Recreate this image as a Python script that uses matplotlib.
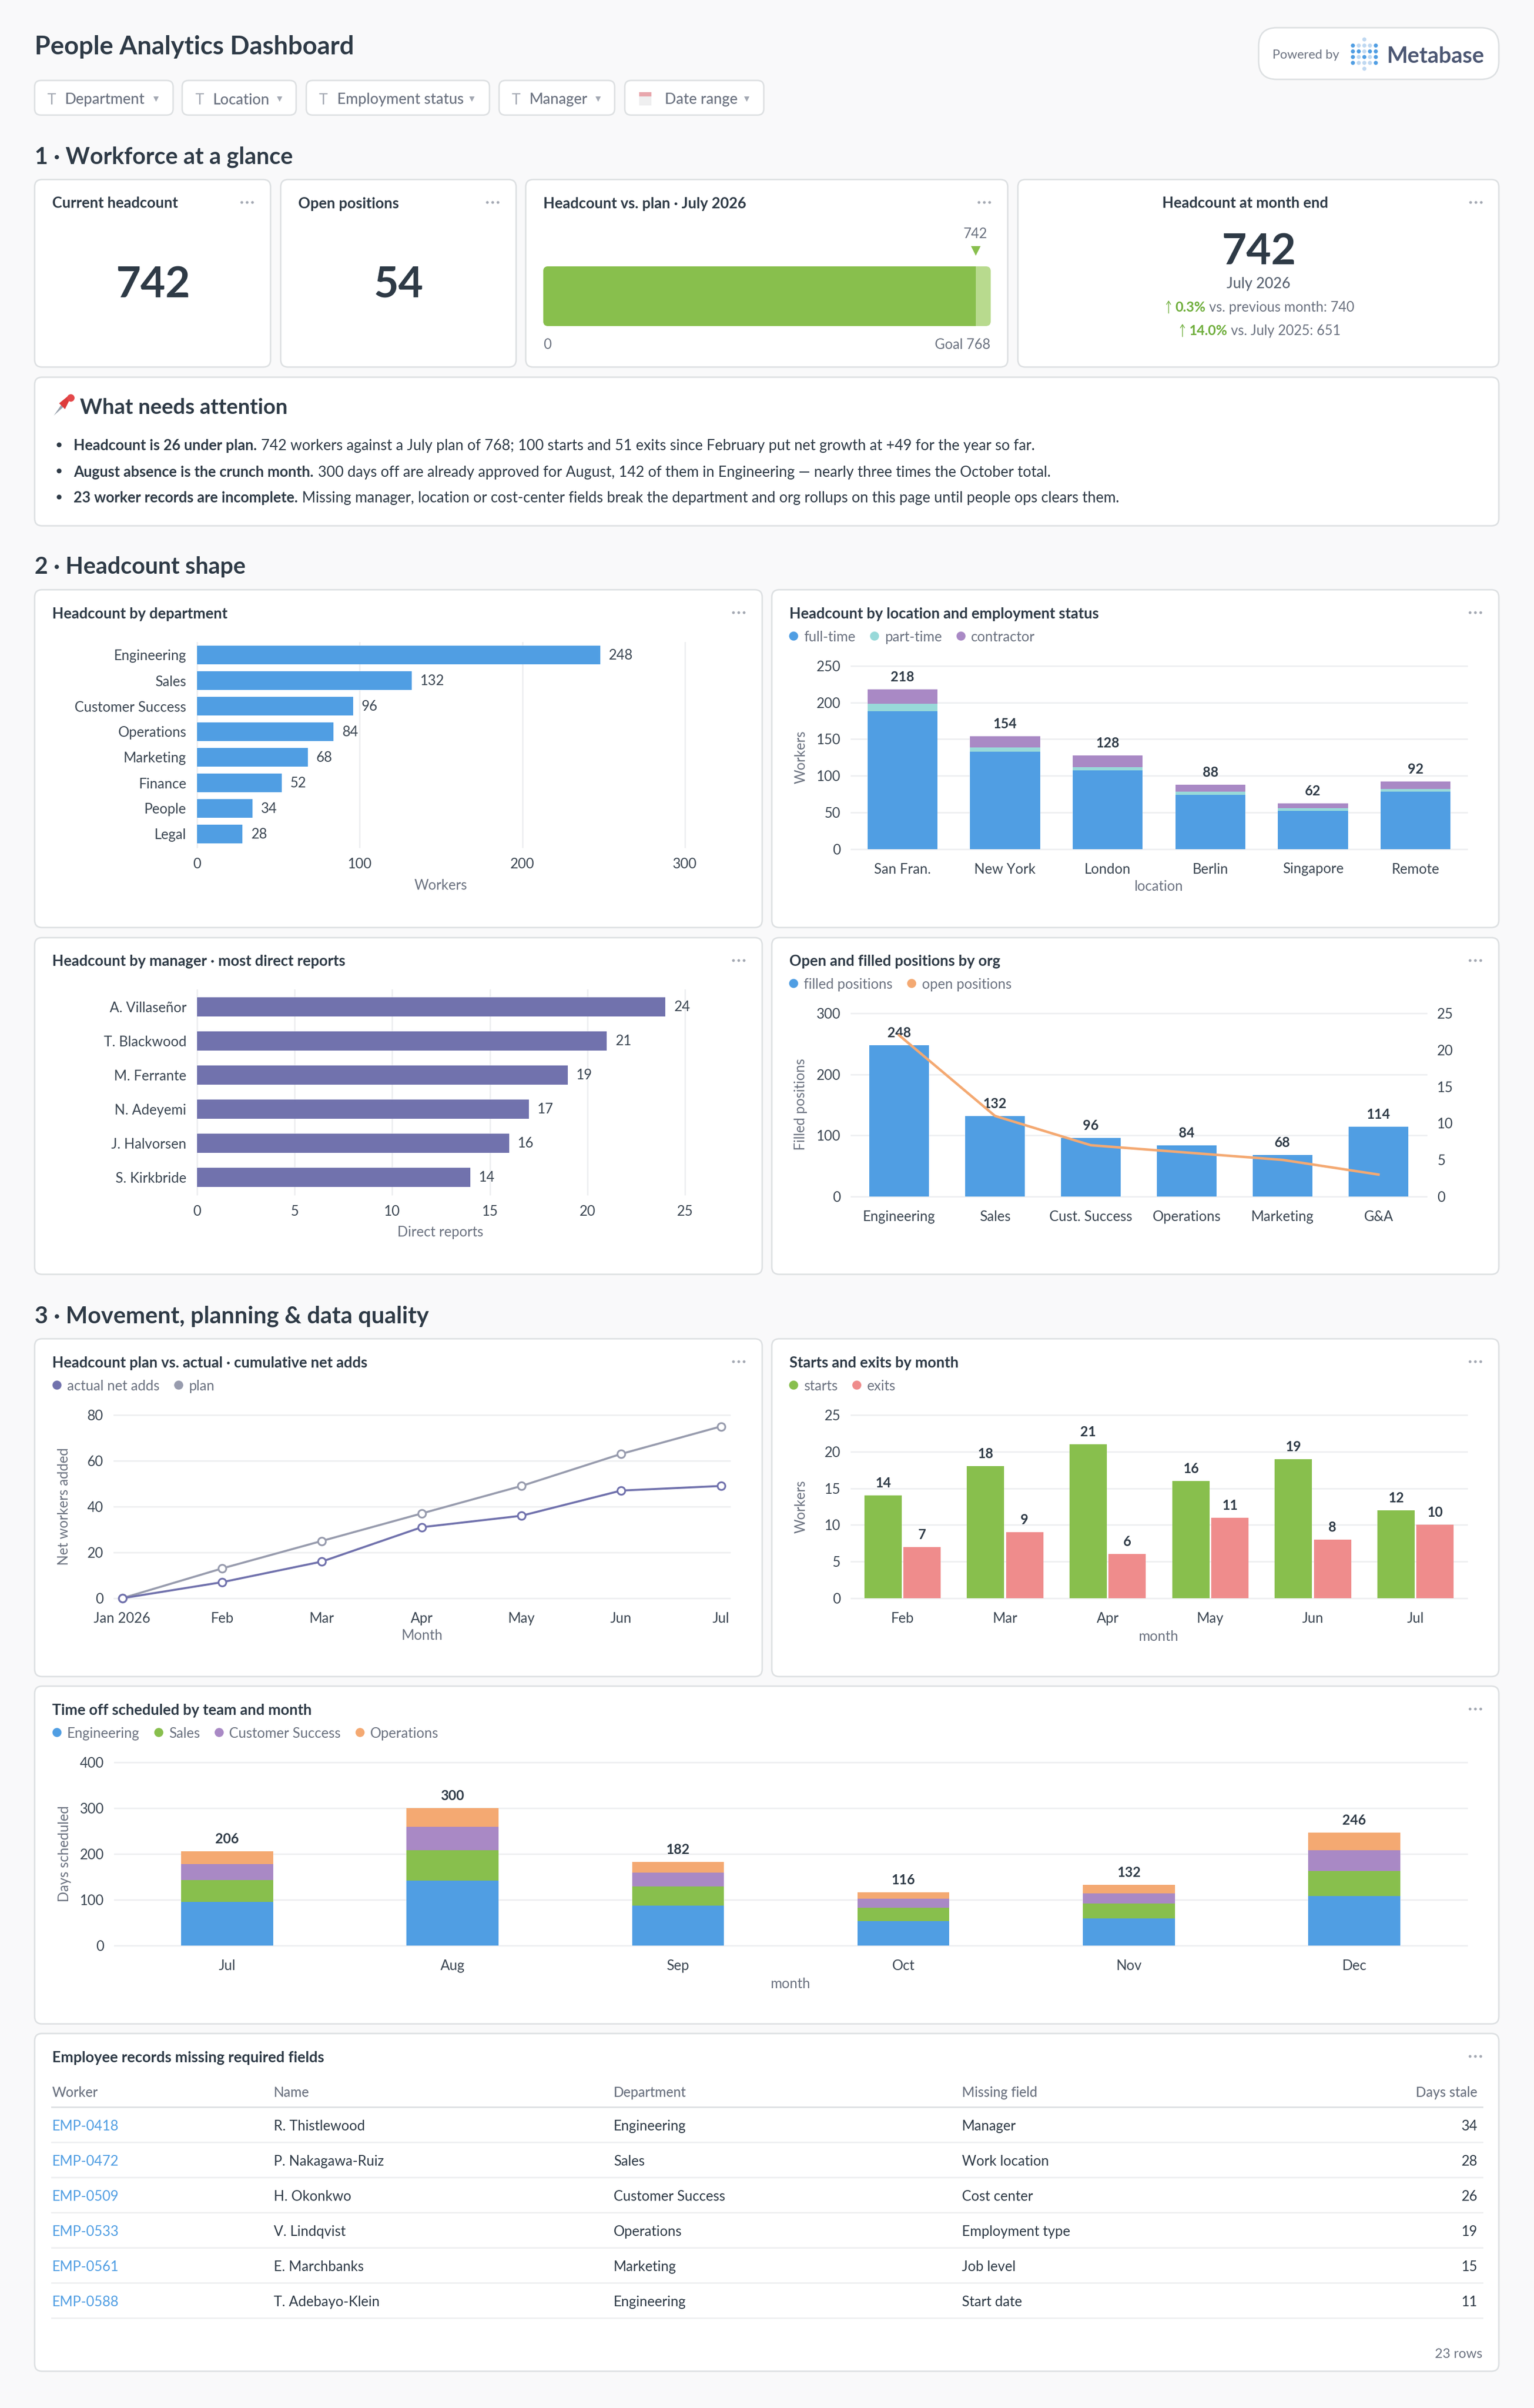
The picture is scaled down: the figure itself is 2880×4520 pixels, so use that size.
"""People analytics dashboard, drawn on a pixel grid matching the screenshot."""
import matplotlib

matplotlib.use("Agg")
import matplotlib.pyplot as plt
import numpy as np
from matplotlib.patches import Circle, FancyBboxPatch, Polygon, Rectangle
from matplotlib.transforms import ScaledTranslation

plt.rcParams["font.family"] = ["Lato", "DejaVu Sans"]

W, H = 2880, 4520
DPI = 200
PT = 72 / DPI  # one screenshot pixel in points

BG = "#F9F9FA"
BORDER = "#DDE0E2"
GRID = "#EEEFF1"
INK = "#2E3A46"
TICK = "#3B4652"
MUTED = "#6B7280"
FAINT = "#A3A8B2"
BLUE = "#509EE3"
TEAL = "#98D9D9"
LAVENDER = "#A989C5"
ORANGE = "#F4A972"
GREEN = "#88BF4D"
LIGHT_GREEN = "#B8DA8E"
SALMON = "#EF8C8C"
INDIGO = "#7172AD"
PLAN_GREY = "#989CAE"
DELTA_GREEN = "#6FAE3C"
LOGO_LIGHT = "#BFD8F1"

# filter bar
filter_labels = ["Department", "Location", "Employment status", "Manager", "Date range"]

# headcount vs plan
headcount = 742
open_positions = 54
headcount_goal = 768

# attention notes: bold lead, then plain text
attention_leads = [
    "Headcount is 26 under plan.",
    "August absence is the crunch month.",
    "23 worker records are incomplete.",
]
attention_bodies = [
    "742 workers against a July plan of 768; 100 starts and 51 exits since February put net growth at +49 for the year so far.",
    "300 days off are already approved for August, 142 of them in Engineering \u2014 nearly three times the October total.",
    "Missing manager, location or cost-center fields break the department and org rollups on this page until people ops clears them.",
]

departments = ["Engineering", "Sales", "Customer Success", "Operations", "Marketing", "Finance", "People", "Legal"]
department_workers = [248, 132, 96, 84, 68, 52, 34, 28]

locations = ["San Fran.", "New York", "London", "Berlin", "Singapore", "Remote"]
full_time = [188, 133, 107, 74, 52, 78]
part_time = [10, 6, 5, 4, 4, 4]
contractor = [20, 15, 16, 10, 6, 10]

managers = ["A. Villase\u00f1or", "T. Blackwood", "M. Ferrante", "N. Adeyemi", "J. Halvorsen", "S. Kirkbride"]
direct_reports = [24, 21, 19, 17, 16, 14]

orgs = ["Engineering", "Sales", "Cust. Success", "Operations", "Marketing", "G&A"]
filled_positions = [248, 132, 96, 84, 68, 114]
open_by_org = [22, 11, 7, 6, 5, 3]

plan_months = ["Jan 2026", "Feb", "Mar", "Apr", "May", "Jun", "Jul"]
actual_adds = [0, 7, 16, 31, 36, 47, 49]
plan_adds = [0, 13, 25, 37, 49, 63, 75]

flow_months = ["Feb", "Mar", "Apr", "May", "Jun", "Jul"]
starts = [14, 18, 21, 16, 19, 12]
exits = [7, 9, 6, 11, 8, 10]

off_months = ["Jul", "Aug", "Sep", "Oct", "Nov", "Dec"]
off_engineering = [95, 142, 87, 54, 59, 108]
off_sales = [48, 66, 42, 28, 33, 55]
off_customer_success = [35, 51, 30, 20, 22, 45]
off_operations = [28, 41, 23, 14, 18, 38]

table_headers = ["Worker", "Name", "Department", "Missing field", "Days stale"]
worker_ids = ["EMP-0418", "EMP-0472", "EMP-0509", "EMP-0533", "EMP-0561", "EMP-0588"]
worker_names = ["R. Thistlewood", "P. Nakagawa-Ruiz", "H. Okonkwo", "V. Lindqvist", "E. Marchbanks", "T. Adebayo-Klein"]
worker_departments = ["Engineering", "Sales", "Customer Success", "Operations", "Marketing", "Engineering"]
missing_fields = ["Manager", "Work location", "Cost center", "Employment type", "Job level", "Start date"]
days_stale = [34, 28, 26, 19, 15, 11]

fig = plt.figure(figsize=(W / DPI, H / DPI), dpi=DPI, facecolor=BG)
page = fig.add_axes([0, 0, 1, 1])
page.set_xlim(0, W)
page.set_ylim(H, 0)
page.axis("off")


def put(x, y, s, size=9.4, color=INK, weight="normal", ha="left", **kwargs):
    return page.text(x, y, s, fontsize=size, color=color, fontweight=weight, ha=ha, va="center_baseline", **kwargs)


def run(x, y, parts, size, gap=8):
    # consecutive text pieces with different weights on one line
    renderer = fig.canvas.get_renderer()
    for s, weight, color in parts:
        t = put(x, y, s, size=size, color=color, weight=weight)
        x += t.get_window_extent(renderer).width + gap
    return x


def box(x0, y0, x1, y1, radius=14, face="white", edge=BORDER, lw=1.0):
    patch = FancyBboxPatch(
        (x0, y0), x1 - x0, y1 - y0,
        boxstyle=f"round,pad=0,rounding_size={radius}",
        facecolor=face, edgecolor=edge, linewidth=lw,
    )
    page.add_patch(patch)
    return patch


def card(x0, y0, x1, y1, title=None):
    box(x0, y0, x1, y1)
    if title:
        put(x0 + 33, y0 + 43, title, size=10.1, weight="bold")
    for dx in (-54, -44, -34):
        page.add_patch(Circle((x1 + dx, y0 + 43), 2.6, color=FAINT, linewidth=0))


def legend(x, y, items):
    renderer = fig.canvas.get_renderer()
    for name, color in items:
        page.add_patch(Circle((x, y), 8.5, color=color, linewidth=0))
        t = put(x + 19, y, name, size=9.4, color=MUTED)
        x += 19 + t.get_window_extent(renderer).width + 36


def chart(x0, y0, x1, y1, xpad=26):
    ax = fig.add_axes([x0 / W, 1 - y1 / H, (x1 - x0) / W, (y1 - y0) / H])
    ax.patch.set_visible(False)
    for spine in ax.spines.values():
        spine.set_visible(False)
    ax.tick_params(length=0, labelsize=9.4, labelcolor=TICK, pad=20 * PT)
    ax.tick_params(axis="x", pad=xpad * PT)
    ax.set_axisbelow(True)
    return ax


def grid_on(ax, axis):
    ax.grid(True, axis=axis, color=GRID, linewidth=1.0)
    lines = ax.get_xgridlines() if axis == "x" else ax.get_ygridlines()
    for line in lines:
        line.set_clip_on(False)


def axis_titles(ax, xlabel=None, xpos=None, ylabel=None, ypos=None):
    if xlabel:
        ax.set_xlabel(xlabel, fontsize=9.4, color=MUTED, va="center")
        ax.xaxis.set_label_coords(*xpos, transform=page.transData)
    if ylabel:
        ax.set_ylabel(ylabel, fontsize=9.4, color=MUTED, va="center", ha="center")
        ax.yaxis.set_label_coords(*ypos, transform=page.transData)


def value_labels(ax, xs, ys, texts, dy=25, size=9.2):
    for x, y, s in zip(xs, ys, texts):
        ax.annotate(
            str(s), (x, y), xytext=(0, dy * PT), textcoords="offset points",
            ha="center", va="center_baseline", fontsize=size, fontweight="bold",
            color=INK, annotation_clip=False,
        )


def hbar_panel(ax, names, values, color, xmax, ticks, thickness):
    pos = np.arange(len(names))
    ax.barh(pos, values, height=thickness, color=color)
    ax.set_xlim(0, xmax)
    ax.set_ylim(len(names) - 0.5, -0.5)
    ax.set_yticks(pos, names)
    ax.set_xticks(ticks)
    grid_on(ax, "x")
    for y, v in zip(pos, values):
        ax.annotate(
            str(v), (v, y), xytext=(16 * PT, 2 * PT), textcoords="offset points",
            ha="left", va="center_baseline", fontsize=9.4, color=TICK, annotation_clip=False,
        )


def stacked_panel(ax, names, layers, colors, ymax, ticks, width):
    pos = np.arange(len(names))
    bottom = np.zeros(len(names))
    for layer, color in zip(layers, colors):
        ax.bar(pos, layer, width=width, bottom=bottom, color=color)
        bottom = bottom + np.array(layer)
    ax.set_xlim(-0.5, len(names) - 0.5)
    ax.set_ylim(0, ymax)
    ax.set_yticks(ticks)
    ax.set_xticks(pos, names)
    grid_on(ax, "y")
    value_labels(ax, pos, bottom, [int(b) for b in bottom])


# ---- header ----
put(65, 84, "People Analytics Dashboard", size=17.3, weight="bold")

pills = [(65, 325), (342, 556), (575, 919), (937, 1154), (1173, 1434)]
glyph_x = [97, 375, 607, 969, 1211]
label_x = [122, 399, 633, 993, 1248]
caret_x = [293, 525, 886, 1123, 1402]
for i, name in enumerate(filter_labels):
    box(pills[i][0], 151, pills[i][1], 216, radius=12)
    if i < 4:
        put(glyph_x[i], 185, "T", size=10, color=FAINT, ha="center")
    else:
        page.add_patch(Rectangle((1200, 173), 23, 25, facecolor="#EFEFF0", linewidth=0))
        page.add_patch(Rectangle((1200, 173), 23, 8, facecolor="#E8A6AC", linewidth=0))
    put(label_x[i], 185, name, size=10.1, color=MUTED, weight="medium")
    page.plot([caret_x[i]], [186], marker="v", ms=3.6, color=FAINT, mew=0)

box(2363, 52, 2814, 149, radius=34)
put(2389, 102, "Powered by", size=8.6, color=MUTED)
put(2604, 102, "Metabase", size=15, color="#4C5773", weight="bold")
logo_dark = [(0, 0), (0, 4), (1, 0), (1, 1), (1, 3), (1, 4), (2, 0), (2, 2), (2, 4), (3, 0), (3, 4)]
for r, yy in enumerate([85.5, 96.5, 107, 118]):
    for c, xx in enumerate([2540, 2551, 2561.5, 2572, 2583]):
        page.add_patch(Circle((xx, yy), 3.8, color=BLUE if (r, c) in logo_dark else LOGO_LIGHT, linewidth=0))
for yy in (74, 129):
    page.add_patch(Circle((2561.5, yy), 3.8, color=LOGO_LIGHT, linewidth=0))

# ---- section 1 ----
put(65, 291, "1 \u00b7 Workforce at a glance", size=15.6, weight="bold")

card(65, 337, 508, 689, "Current headcount")
put(287, 528, str(headcount), size=29, weight="bold", ha="center")
card(527, 337, 969, 689, "Open positions")
put(748, 528, str(open_positions), size=29, weight="bold", ha="center")

card(987, 337, 1892, 689, "Headcount vs. plan \u00b7 July 2026")
gauge = chart(1020, 500, 1860, 612)
gauge.set_xlim(0, headcount_goal)
gauge.set_ylim(-0.5, 0.5)
gauge.set_xticks([])
gauge.set_yticks([])
gauge_shape = FancyBboxPatch(
    (1020, 500), 840, 112, boxstyle="round,pad=0,rounding_size=9", transform=page.transData
)
for value, color in ((headcount_goal, LIGHT_GREEN), (headcount, GREEN)):
    for bar in gauge.barh(0, value, height=1, color=color):
        bar.set_clip_path(gauge_shape)
gauge.plot([headcount], [1], marker="v", ms=18 * PT, color=GREEN, mew=0, clip_on=False,
           transform=gauge.get_xaxis_transform() + ScaledTranslation(0, 29 / DPI, fig.dpi_scale_trans))
put(1831, 437, str(headcount), size=9.3, color=MUTED, ha="center")
put(1020, 645, "0", size=9.3, color=MUTED)
put(1859, 645, f"Goal {headcount_goal}", size=9.3, color=MUTED, ha="right")

box(1911, 337, 2814, 689)
put(2338, 380, "Headcount at month end", size=10.1, weight="bold", ha="center")
for dx in (-53, -43, -33):
    page.add_patch(Circle((2814 + dx, 380), 2.6, color=FAINT, linewidth=0))
put(2363, 466, str(headcount), size=29, weight="bold", ha="center")
put(2363, 530, "July 2026", size=10, color="#5A6472", weight="medium", ha="center")
for ax_x, start_x, yy, pct, rest in (
    (2194, 2206, 575, "0.3%", "vs. previous month: 740"),
    (2220, 2232, 619, "14.0%", "vs. July 2025: 651"),
):
    page.annotate("", xy=(ax_x, yy - 11), xytext=(ax_x, yy + 13),
                  arrowprops=dict(arrowstyle="->,head_length=0.22,head_width=0.14", color=DELTA_GREEN, lw=0.5, shrinkA=0, shrinkB=0))
    run(start_x, yy, [(pct, "bold", DELTA_GREEN), (rest, "normal", MUTED)], size=9.25, gap=7)

# what needs attention
box(65, 708, 2814, 987)
page.add_patch(Polygon([(101, 780), (115, 760), (119, 764)], color="#9AA3AE", linewidth=0))
page.add_patch(Polygon([(111, 757), (127, 744), (133, 741), (130, 742), (129, 746), (137, 752), (134, 753), (130, 752), (122, 768)], color="#DD3B3B", linewidth=0))
page.add_patch(Circle((133, 747), 7, color="#E4484A", linewidth=0))
put(150, 762, "What needs attention", size=14.4, weight="bold")
for yy, lead, body in zip((835, 884, 933), attention_leads, attention_bodies):
    page.add_patch(Circle((111, yy), 4.5, color=INK, linewidth=0))
    run(138, yy, [(lead, "bold", INK), (body, "normal", INK)], size=9.96)

# ---- section 2 ----
put(65, 1061, "2 \u00b7 Headcount shape", size=15.6, weight="bold")

card(65, 1107, 1431, 1741, "Headcount by department")
ax = chart(370, 1205.5, 1286, 1589.5, xpad=20)
hbar_panel(ax, departments, department_workers, BLUE, 300, [0, 100, 200, 300], 0.72)
axis_titles(ax, xlabel="Workers", xpos=(827, 1663))

card(1449, 1107, 2814, 1741, "Headcount by location and employment status")
legend(1490, 1194, [("full-time", BLUE), ("part-time", TEAL), ("contractor", LAVENDER)])
ax = chart(1598, 1250, 2754, 1593.5)
stacked_panel(ax, locations, [full_time, part_time, contractor], [BLUE, TEAL, LAVENDER], 250, np.arange(0, 251, 50), 0.68)
axis_titles(ax, xlabel="location", xpos=(2175, 1665), ylabel="Workers", ypos=(1504, 1421))

card(65, 1760, 1431, 2392, "Headcount by manager \u00b7 most direct reports")
ax = chart(370, 1858, 1286, 2242, xpad=20)
hbar_panel(ax, managers, direct_reports, INDIGO, 25, np.arange(0, 26, 5), 0.5625)
axis_titles(ax, xlabel="Direct reports", xpos=(827, 2313))

card(1449, 1760, 2814, 2392, "Open and filled positions by org")
legend(1490, 1846, [("filled positions", BLUE), ("open positions", ORANGE)])
ax = chart(1598, 1902, 2678, 2246)
pos = np.arange(len(orgs))
ax.bar(pos, filled_positions, width=0.62, color=BLUE)
ax.set_xlim(-0.5, len(orgs) - 0.5)
ax.set_ylim(0, 300)
ax.set_yticks([0, 100, 200, 300])
ax.set_xticks(pos, orgs)
grid_on(ax, "y")
value_labels(ax, pos, filled_positions, filled_positions)
axis_titles(ax, ylabel="Filled positions", ypos=(1504, 2073))
ax2 = ax.twinx()
ax2.patch.set_visible(False)
for spine in ax2.spines.values():
    spine.set_visible(False)
ax2.plot(pos, open_by_org, color=ORANGE, linewidth=1.7)
ax2.set_ylim(0, 25)
ax2.set_yticks(np.arange(0, 26, 5))
ax2.tick_params(length=0, labelsize=9.4, labelcolor=TICK, pad=20 * PT)

# ---- section 3 ----
put(65, 2467, "3 \u00b7 Movement, planning & data quality", size=15.7, weight="bold")

card(65, 2513, 1431, 3147, "Headcount plan vs. actual \u00b7 cumulative net adds")
legend(107, 2600, [("actual net adds", INDIGO), ("plan", PLAN_GREY)])
ax = chart(214, 2656, 1370, 3000)
pos = np.arange(len(plan_months))
for series, color in ((plan_adds, PLAN_GREY), (actual_adds, INDIGO)):
    ax.plot(pos, series, color=color, linewidth=1.4, marker="o", ms=5.2, mfc="white", mec=color, mew=1.2, clip_on=False)
ax.set_xlim(-0.083, 6.0875)
ax.set_ylim(0, 80)
ax.set_yticks(np.arange(0, 81, 20))
ax.set_xticks(pos, plan_months)
grid_on(ax, "y")
axis_titles(ax, xlabel="Month", xpos=(792, 3071), ylabel="Net workers added", ypos=(121, 2828))

card(1449, 2513, 2814, 3147, "Starts and exits by month")
legend(1490, 2600, [("starts", GREEN), ("exits", SALMON)])
ax = chart(1598, 2656, 2754, 3000)
pos = np.arange(len(flow_months))
bar_w = 0.364
ax.bar(pos - 0.19, starts, width=bar_w, color=GREEN)
ax.bar(pos + 0.19, exits, width=bar_w, color=SALMON)
ax.set_xlim(-0.5, len(flow_months) - 0.5)
ax.set_ylim(0, 25)
ax.set_yticks(np.arange(0, 26, 5))
ax.set_xticks(pos, flow_months)
grid_on(ax, "y")
value_labels(ax, pos - 0.19, starts, starts)
value_labels(ax, pos + 0.19, exits, exits)
axis_titles(ax, xlabel="month", xpos=(2175, 3072), ylabel="Workers", ypos=(1504, 2828))

card(65, 3165, 2814, 3799, "Time off scheduled by team and month")
legend(107, 3252, [("Engineering", BLUE), ("Sales", GREEN), ("Customer Success", LAVENDER), ("Operations", ORANGE)])
ax = chart(215, 3308, 2754, 3652)
stacked_panel(
    ax, off_months,
    [off_engineering, off_sales, off_customer_success, off_operations],
    [BLUE, GREEN, LAVENDER, ORANGE], 400, np.arange(0, 401, 100), 0.408,
)
axis_titles(ax, xlabel="month", xpos=(1484, 3724), ylabel="Days scheduled", ypos=(121, 3480))

# ---- missing records table ----
card(65, 3817, 2814, 4451, "Employee records missing required fields")
col_x = [98, 514, 1152, 1806]
for x, name in zip(col_x, table_headers[:4]):
    put(x, 3926, name, size=9.2, color=MUTED, weight="medium")
put(2774, 3926, table_headers[4], size=9.2, color=MUTED, weight="medium", ha="right")
page.plot([97, 2783], [3955, 3955], color=BORDER, linewidth=1.0)
for i in range(len(worker_ids)):
    yy = 3989 + 66 * i
    put(col_x[0], yy, worker_ids[i], size=9.4, color=BLUE)
    put(col_x[1], yy, worker_names[i], size=9.4)
    put(col_x[2], yy, worker_departments[i], size=9.4)
    put(col_x[3], yy, missing_fields[i], size=9.4)
    put(2774, yy, str(days_stale[i]), size=9.4, ha="right")
    page.plot([97, 2783], [yy + 32, yy + 32], color=GRID, linewidth=1.0)
put(2783, 4416, "23 rows", size=9.0, color=MUTED, ha="right")

fig.savefig("out.png", dpi=DPI, facecolor=BG)
